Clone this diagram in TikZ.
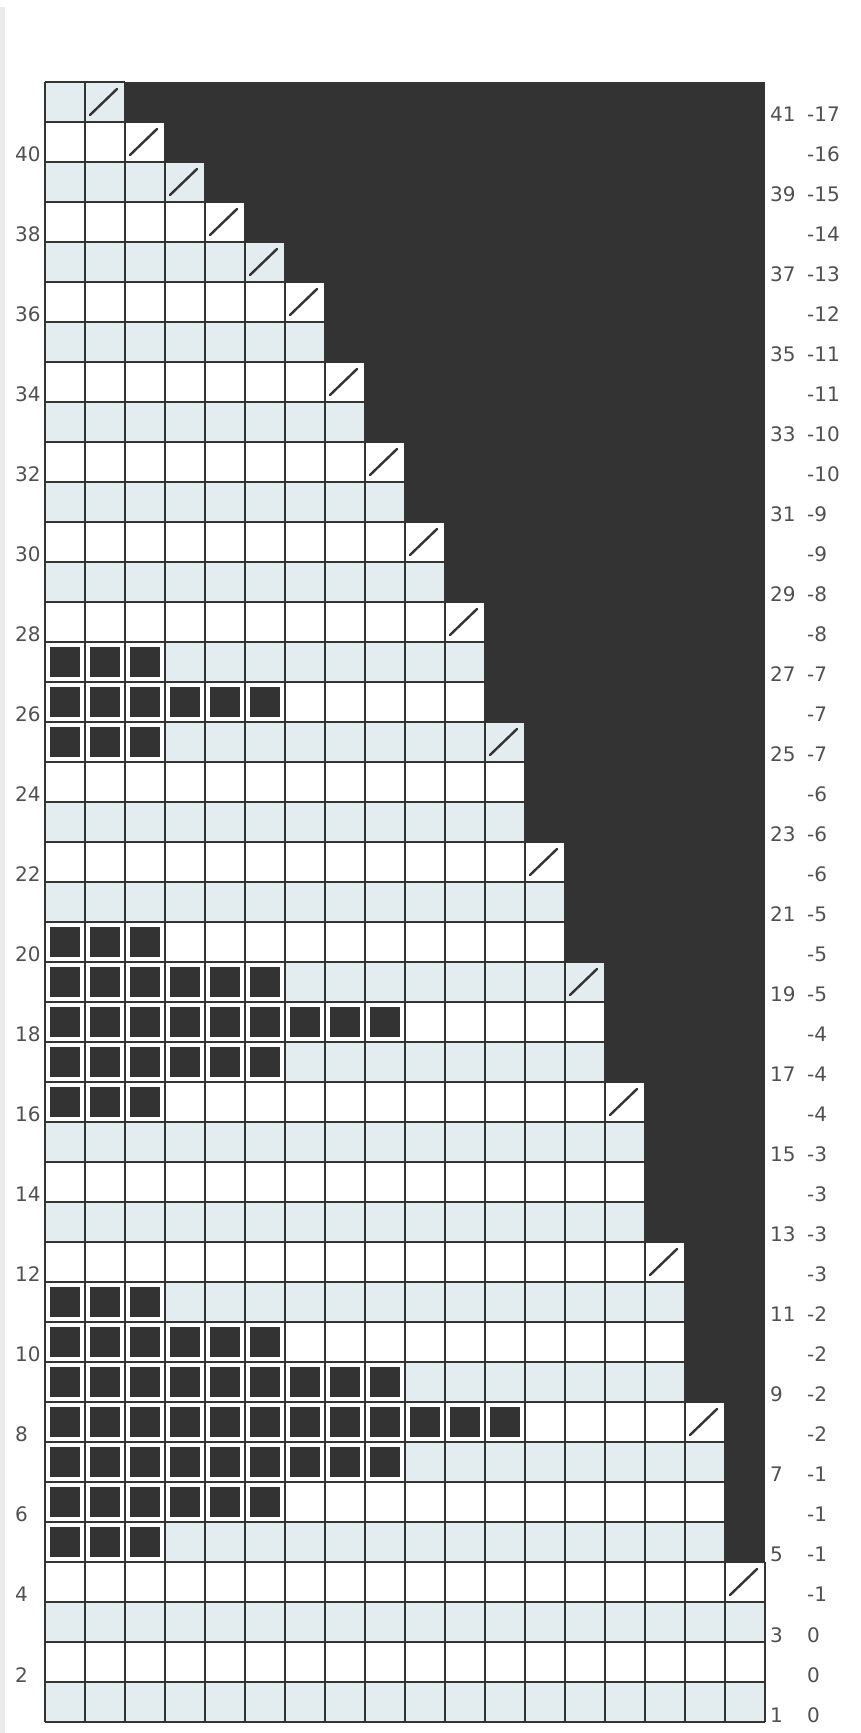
\documentclass[tikz,border=0pt]{standalone}
\usepackage{fontspec}
\setmainfont{DejaVu Sans}
\usepackage{xcolor}
\usepackage{tikz}
\definecolor{chartdark}{HTML}{333333}
\definecolor{rowblue}{HTML}{E3ECEE}
\definecolor{labelgray}{HTML}{505050}

\begin{document}
\begin{tikzpicture}[x=40pt, y=40pt,
  gridline/.style={draw=chartdark, line width=1.3pt},
  slashmark/.style={draw=chartdark, line width=2.4pt, line cap=round},
  knit/.style={fill=chartdark},
  lbl/.style={anchor=base west, inner sep=0pt, text=labelgray, font=\fontsize{20}{24}\selectfont}]
\useasboundingbox (-1.125,-0.275) rectangle (20.4,43.05);
\fill[black!8] (-1.125,-0.275) rectangle (-1.0,42.875);
\fill[chartdark] (0,0) rectangle (18,41);
% rows a..b have n stitches, decrease in the top row of each block
\foreach \a/\b/\n in {1/4/18, 5/8/17, 9/12/16, 13/16/15, 17/19/14, 20/22/13, 23/25/12, 26/28/11,
    29/30/10, 31/32/9, 33/34/8, 35/36/7, 37/37/6, 38/38/5, 39/39/4, 40/40/3, 41/41/2}{
  \foreach \r in {\a,...,\b}{
    \ifodd\r\relax
      \fill[rowblue] (0,\r-1) rectangle (\n,\r);
    \else
      \fill[white] (0,\r-1) rectangle (\n,\r);
    \fi
  }
}
\foreach \r/\n in {5/3, 6/6, 7/9, 8/12, 9/9, 10/6, 11/3, 16/3, 17/6, 18/9, 19/6, 20/3, 25/3, 26/6, 27/3}{
  \foreach \c in {1,...,\n}{
    \fill[white] (\c-1,\r-1) rectangle (\c,\r);
    \fill[knit] (\c-0.875,\r-0.875) rectangle (\c-0.125,\r-0.125);
  }
}
\foreach \a/\b/\n in {1/4/18, 5/8/17, 9/12/16, 13/16/15, 17/19/14, 20/22/13, 23/25/12, 26/28/11,
    29/30/10, 31/32/9, 33/34/8, 35/36/7, 37/37/6, 38/38/5, 39/39/4, 40/40/3, 41/41/2}{
  \draw[gridline, step=1] (0,\a-1) grid (\n,\b);
  \draw[slashmark] (\n-0.875,\b-0.825) -- (\n-0.2,\b-0.175);
}
\foreach \r in {2,4,...,40}
  \node[lbl] (left\r) at (-0.75,\r-1) {\r};
\foreach \r in {1,3,...,41}
  \node[lbl] (odd\r) at (18.125,\r-1) {\r};
\foreach \r/\v in {1/0, 2/0, 3/0, 4/-1, 5/-1, 6/-1, 7/-1, 8/-2, 9/-2, 10/-2, 11/-2, 12/-3, 13/-3,
    14/-3, 15/-3, 16/-4, 17/-4, 18/-4, 19/-5, 20/-5, 21/-5, 22/-6, 23/-6, 24/-6, 25/-7, 26/-7,
    27/-7, 28/-8, 29/-8, 30/-9, 31/-9, 32/-10, 33/-10, 34/-11, 35/-11, 36/-12, 37/-13, 38/-14,
    39/-15, 40/-16, 41/-17}
  \node[lbl] (dec\r) at (19.05,\r-1) {\v};
\end{tikzpicture}
\end{document}
